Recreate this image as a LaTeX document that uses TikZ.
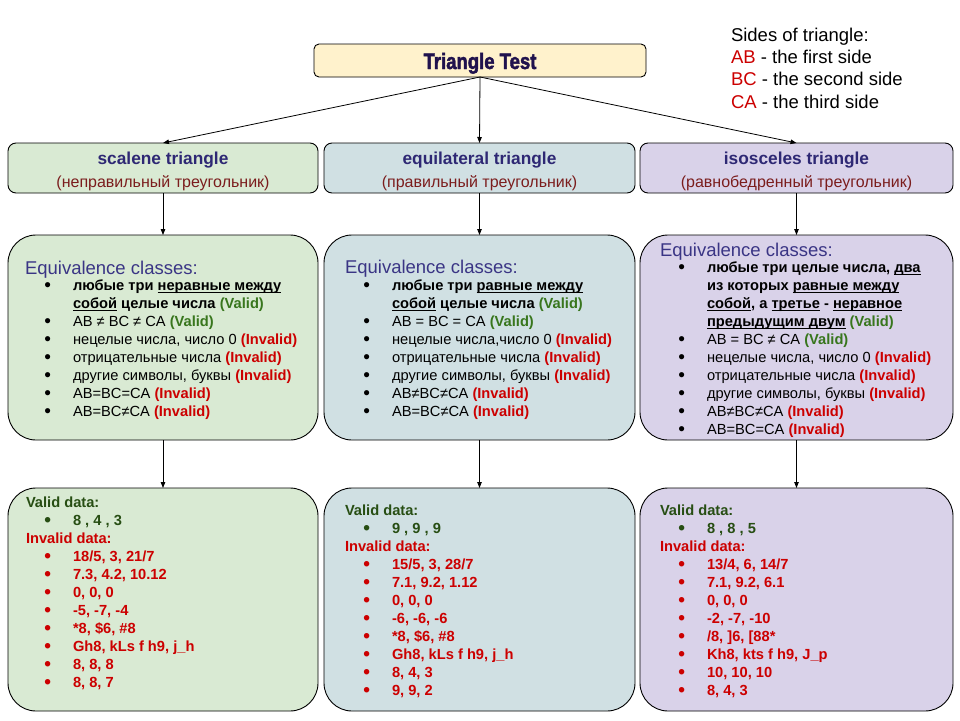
\documentclass[tikz,border=0pt]{standalone}
\usepackage{fontspec}
\setmainfont{Liberation Sans}
\newfontfamily\ttlf[FakeBold=2.2]{Liberation Sans Bold}
\usetikzlibrary{arrows.meta}
\definecolor{gfill}{HTML}{D9EAD3}
\definecolor{bfill}{HTML}{D0E0E3}
\definecolor{pfill}{HTML}{D9D2E9}
\definecolor{yfill}{HTML}{FFF2CC}
\definecolor{indig}{HTML}{20124D}
\definecolor{eqc}{HTML}{3A3585}
\definecolor{hdc}{HTML}{2E2874}
\definecolor{subred}{HTML}{7B1D1D}
\definecolor{vgreen}{HTML}{38761D}
\definecolor{dgreen}{HTML}{274E13}
\definecolor{ired}{HTML}{CC0000}
\newsavebox\ulbox
\newcommand\uln[1]{\sbox\ulbox{#1}\rlap{\rule[-2.5pt]{\wd\ulbox}{0.9pt}}\usebox\ulbox}
\newcommand\bu[1][black]{\llap{\textcolor{#1}{\raisebox{-1.3pt}{\scalebox{1.3}{\textbullet}}}\hspace{22pt}}}
\newcommand\vld{\textbf{\textcolor{vgreen}{(Valid)}}}
\newcommand\inv{\textbf{\textcolor{ired}{(Invalid)}}}
\begin{document}
\begin{tikzpicture}[x=1pt,y=-1pt,
  box/.style={draw=black, line width=0.9pt, inner sep=0pt, outer sep=0pt, anchor=north west},
  txt/.style={inner sep=0pt, outer sep=0pt, anchor=base west, font=\fontsize{14.67}{17}\selectfont},
  dtxt/.style={txt, font=\fontsize{14.67}{17}\selectfont\bfseries},
  eqh/.style={inner sep=0pt, outer sep=0pt, anchor=base west, font=\fontsize{18.5}{20}\selectfont, text=eqc},
  leg/.style={inner sep=0pt, outer sep=0pt, anchor=base west, font=\fontsize{18.5}{20}\selectfont},
  thead/.style={inner sep=0pt, outer sep=0pt, anchor=base, font=\fontsize{17.3}{19}\selectfont\bfseries, text=hdc},
  tsub/.style={inner sep=0pt, outer sep=0pt, anchor=base, font=\fontsize{16}{18}\selectfont, text=subred},
  arr/.style={-{Triangle[length=6pt,width=4.5pt]}, line width=0.8pt}]
\useasboundingbox (0,0) rectangle (960,720);
\fill[white] (0,0) rectangle (960,720);

% title
\node[box, rounded corners=5pt, fill=yfill, minimum width=332pt, minimum height=33pt] (title) at (314,44) {};
\node[inner sep=0pt, anchor=base, font=\fontsize{22.3}{24}\ttlf, text=indig] (tt) at (480,69) {\scalebox{0.83}[1]{Triangle Test}};

% legend
\node[leg] (lg1) at (731,41.5) {Sides of triangle:};
\node[leg] (lg2) at (731,63.5) {\textcolor{ired}{AB} - the first side};
\node[leg] (lg3) at (731,85.5) {\textcolor{ired}{BC} - the second side};
\node[leg] (lg4) at (731,108.5) {\textcolor{ired}{CA} - the third side};

% type boxes
\node[box, rounded corners=8pt, fill=gfill, minimum width=310pt, minimum height=50pt] (sL) at (8,143) {};
\node[box, rounded corners=8pt, fill=bfill, minimum width=311pt, minimum height=50pt] (sM) at (324,143) {};
\node[box, rounded corners=8pt, fill=pfill, minimum width=313pt, minimum height=50pt] (sR) at (640,143) {};
\node[thead] (hL) at (163,164.5) {scalene triangle};
\node[tsub] (uL) at (163,187) {(неправильный треугольник)};
\node[thead] (hM) at (479.5,164.5) {equilateral triangle};
\node[tsub] (uM) at (479.5,187) {(правильный треугольник)};
\node[thead] (hR) at (796.5,164.5) {isosceles triangle};
\node[tsub] (uR) at (796.5,187) {(равнобедренный треугольник)};

% equivalence boxes
\node[box, rounded corners=28pt, fill=gfill, minimum width=310pt, minimum height=205pt] (eL) at (8,235) {};
\node[box, rounded corners=28pt, fill=bfill, minimum width=311pt, minimum height=205pt] (eM) at (324,235) {};
\node[box, rounded corners=28pt, fill=pfill, minimum width=313pt, minimum height=205pt] (eR) at (640,235) {};

% data boxes
\node[box, rounded corners=28pt, fill=gfill, minimum width=310pt, minimum height=223pt] (dL) at (8,488) {};
\node[box, rounded corners=28pt, fill=bfill, minimum width=311pt, minimum height=223pt] (dM) at (324,488) {};
\node[box, rounded corners=28pt, fill=pfill, minimum width=313pt, minimum height=223pt] (dR) at (640,488) {};

% arrows
\draw[arr] (title.south) -- (sL.north);
\draw[arr] (title.south) -- (sM.north);
\draw[arr] (title.south) -- (sR.north);
\draw[arr] (sL.south) -- (eL.north);
\draw[arr] (sM.south) -- (eM.north);
\draw[arr] (sR.south) -- (eR.north);
\draw[arr] (eL.south) -- (dL.north);
\draw[arr] (eM.south) -- (dM.north);
\draw[arr] (eR.south) -- (dR.north);

% equivalence left
\node[eqh] (eLh) at (25,274.5) {Equivalence classes:};
\node[txt] (eL0) at (73,290.5) {\bu\textbf{любые три \uln{неравные между}}};
\node[txt] (eL1) at (73,308.5) {\textbf{\uln{собой} целые числа} \vld};
\node[txt] (eL2) at (73,326.5) {\bu AB ≠ BC ≠ CA \vld};
\node[txt] (eL3) at (73,344.5) {\bu нецелые числа, число 0 \inv};
\node[txt] (eL4) at (73,362.5) {\bu отрицательные числа \inv};
\node[txt] (eL5) at (73,380.5) {\bu другие символы, буквы \inv};
\node[txt] (eL6) at (73,398.5) {\bu AB=BC=CA \inv};
\node[txt] (eL7) at (73,416.5) {\bu AB=BC≠CA \inv};

% equivalence middle
\node[eqh] (eMh) at (345,273) {Equivalence classes:};
\node[txt] (eM0) at (392,290.5) {\bu\textbf{любые три \uln{равные между}}};
\node[txt] (eM1) at (392,308.5) {\textbf{\uln{собой} целые числа} \vld};
\node[txt] (eM2) at (392,326.5) {\bu AB = BC = CA \vld};
\node[txt] (eM3) at (392,344.5) {\bu нецелые числа,число 0 \inv};
\node[txt] (eM4) at (392,362.5) {\bu отрицательные числа \inv};
\node[txt] (eM5) at (392,380.5) {\bu другие символы, буквы \inv};
\node[txt] (eM6) at (392,398.5) {\bu AB≠BC≠CA \inv};
\node[txt] (eM7) at (392,416.5) {\bu AB=BC≠CA \inv};

% equivalence right
\node[eqh] (eRh) at (660,256.5) {Equivalence classes:};
\node[txt] (eR0) at (707,272.5) {\bu\textbf{любые три целые числа, \uln{два}}};
\node[txt] (eR1) at (707,290.5) {\textbf{из которых \uln{равные между}}};
\node[txt] (eR2) at (707,308.5) {\textbf{\uln{собой}, а \uln{третье} - \uln{неравное}}};
\node[txt] (eR3) at (707,326.5) {\textbf{\uln{предыдущим двум}} \vld};
\node[txt] (eR4) at (707,344.5) {\bu AB = BC ≠ CA \vld};
\node[txt] (eR5) at (707,362.5) {\bu нецелые числа, число 0 \inv};
\node[txt] (eR6) at (707,380.5) {\bu отрицательные числа \inv};
\node[txt] (eR7) at (707,398.5) {\bu другие символы, буквы \inv};
\node[txt] (eR8) at (707,416.5) {\bu AB≠BC≠CA \inv};
\node[txt] (eR9) at (707,434.5) {\bu AB=BC=CA \inv};

% data left
\node[dtxt, text=dgreen] (dLv) at (26,507) {Valid data:};
\node[dtxt, text=dgreen] (dLv1) at (73,525) {\bu[dgreen]8 , 4 , 3};
\node[dtxt, text=ired] (dLi) at (26,543) {Invalid data:};
\foreach \t [count=\k from 3] in {{18/5, 3, 21/7},{7.3, 4.2, 10.12},{0, 0, 0},{-5, -7, -4},{*8, \$6, \#8},{Gh8, kLs f h9, j\_h},{8, 8, 8},{8, 8, 7}}
  \node[dtxt, text=ired] (dL\k) at (73,507+18*\k) {\bu[ired]\t};

% data middle
\node[dtxt, text=dgreen] (dMv) at (345,515) {Valid data:};
\node[dtxt, text=dgreen] (dMv1) at (392,533) {\bu[dgreen]9 , 9 , 9};
\node[dtxt, text=ired] (dMi) at (345,551) {Invalid data:};
\foreach \t [count=\k from 3] in {{15/5, 3, 28/7},{7.1, 9.2, 1.12},{0, 0, 0},{-6, -6, -6},{*8, \$6, \#8},{Gh8, kLs f h9, j\_h},{8, 4, 3},{9, 9, 2}}
  \node[dtxt, text=ired] (dM\k) at (392,515+18*\k) {\bu[ired]\t};

% data right
\node[dtxt, text=dgreen] (dRv) at (660,515) {Valid data:};
\node[dtxt, text=dgreen] (dRv1) at (707,533) {\bu[dgreen]8 , 8 , 5};
\node[dtxt, text=ired] (dRi) at (660,551) {Invalid data:};
\foreach \t [count=\k from 3] in {{13/4, 6, 14/7},{7.1, 9.2, 6.1},{0, 0, 0},{-2, -7, -10},{/8, ]6, [88*},{Kh8, kts f h9, J\_p},{10, 10, 10},{8, 4, 3}}
  \node[dtxt, text=ired] (dR\k) at (707,515+18*\k) {\bu[ired]\t};
\end{tikzpicture}
\end{document}
